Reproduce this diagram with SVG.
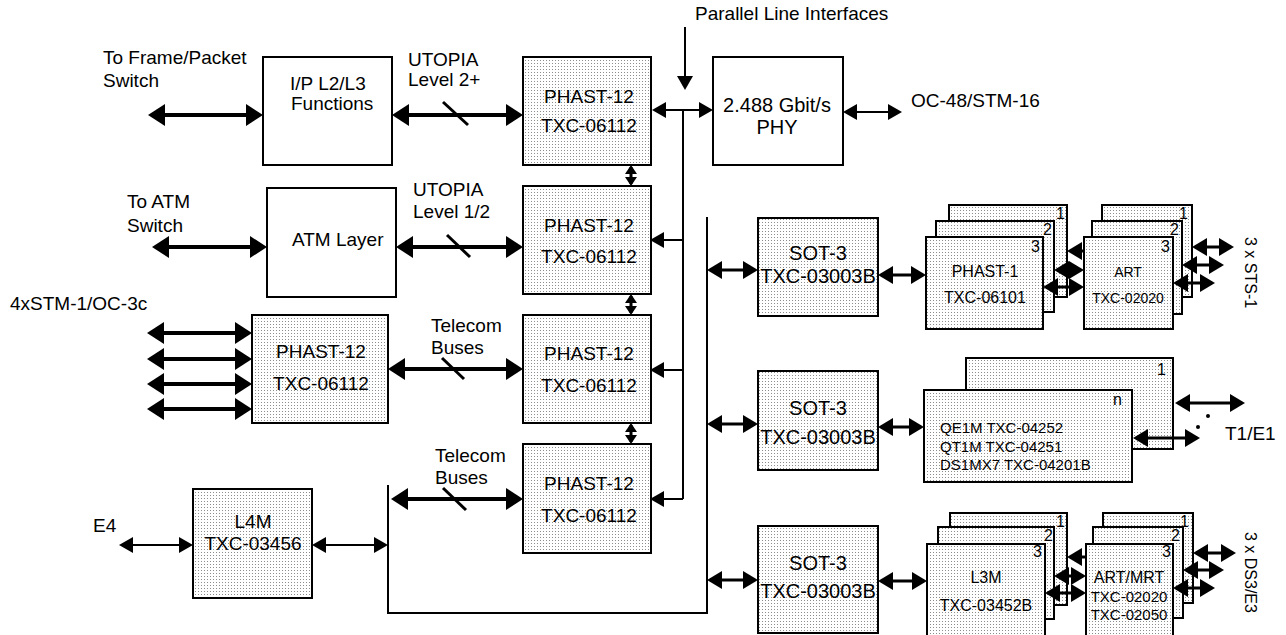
<svg xmlns="http://www.w3.org/2000/svg" width="1286" height="635" viewBox="0 0 1286 635">
<style>
.t{font-family:"Liberation Sans",Arial,sans-serif;font-size:19px;fill:#000}
.m{text-anchor:middle}
.e{text-anchor:end}
.s20{font-size:20px}
.s16{font-size:16px}
.s15{font-size:15px}
.s14{font-size:14px}
.box{fill:#fff;stroke:#000;stroke-width:2}
.chip{fill:url(#dots);stroke:#000;stroke-width:2}
.thick{stroke:#000;stroke-width:4;fill:none;marker-start:url(#hb);marker-end:url(#hb)}
.med{stroke:#000;stroke-width:3;fill:none;marker-start:url(#hm);marker-end:url(#hm)}
.medl{stroke:#000;stroke-width:3;fill:none;marker-start:url(#hm)}
.thin{stroke:#000;stroke-width:2;fill:none;marker-start:url(#hs);marker-end:url(#hs)}
.one{stroke:#000;stroke-width:2;fill:none;marker-end:url(#hs)}
.tiny{stroke:#000;stroke-width:3;fill:none;marker-start:url(#ht);marker-end:url(#ht)}
.bus{stroke:#000;stroke-width:2;fill:none}
.sl{stroke:#000;stroke-width:3}
</style>
<defs>
<pattern id="dots" width="3" height="3" patternUnits="userSpaceOnUse"><rect width="3" height="3" fill="#fff"/><rect width="1" height="1" fill="#8c8c8c"/></pattern>
<marker id="hb" markerUnits="userSpaceOnUse" viewBox="0 0 17 22" markerWidth="17" markerHeight="22" refX="13" refY="11" orient="auto-start-reverse"><path d="M0,0L17,11L0,22z"/></marker>
<marker id="hm" markerUnits="userSpaceOnUse" viewBox="0 0 15 18" markerWidth="15" markerHeight="18" refX="12" refY="9" orient="auto-start-reverse"><path d="M0,0L15,9L0,18z"/></marker>
<marker id="hs" markerUnits="userSpaceOnUse" viewBox="0 0 14 16" markerWidth="14" markerHeight="16" refX="11" refY="8" orient="auto-start-reverse"><path d="M0,0L14,8L0,16z"/></marker>
<marker id="ht" markerUnits="userSpaceOnUse" viewBox="0 0 9 12" markerWidth="9" markerHeight="12" refX="7" refY="6" orient="auto-start-reverse"><path d="M0,0L9,6L0,12z"/></marker>
</defs>
<rect width="1286" height="635" fill="#fff"/>

<g id="labels">
<text class="t" x="103" y="64">To Frame/Packet</text>
<text class="t" x="103" y="87">Switch</text>
<text class="t" x="408" y="66">UTOPIA</text>
<text class="t" x="408" y="86">Level 2+</text>
<text class="t" x="695" y="20">Parallel Line Interfaces</text>
<text class="t" x="911" y="107">OC-48/STM-16</text>
<text class="t" x="127" y="208">To ATM</text>
<text class="t" x="127" y="232">Switch</text>
<text class="t" x="413" y="196">UTOPIA</text>
<text class="t" x="413" y="218">Level 1/2</text>
<text class="t" x="10" y="310">4xSTM-1/OC-3c</text>
<text class="t" x="431" y="332">Telecom</text>
<text class="t" x="431" y="354">Buses</text>
<text class="t" x="435" y="462">Telecom</text>
<text class="t" x="435" y="484">Buses</text>
<text class="t" x="93" y="532">E4</text>
<text class="t" x="1225" y="440">T1/E1</text>
<text class="t s16" transform="translate(1245,237) rotate(90)">3 x STS-1</text>
<text class="t s16" transform="translate(1245,532) rotate(90)">3 x DS3/E3</text>
</g>

<g id="ipl2l3"><rect class="box" x="263" y="57" width="129" height="108"/><text class="t" x="290" y="90">I/P L2/L3</text><text class="t" x="291" y="110">Functions</text></g>
<g id="atm"><rect class="box" x="267" y="188" width="129" height="109"/><text class="t" x="292" y="246">ATM Layer</text></g>
<g id="phy"><rect class="box" x="713" y="57" width="130" height="108"/><text class="t m s20" x="777" y="112">2.488 Gbit/s</text><text class="t m s20" x="777" y="134">PHY</text></g>
<g id="phast1"><rect class="chip" x="523" y="57" width="128" height="108"/><text class="t m" x="589" y="103">PHAST-12</text><text class="t m" x="589" y="132">TXC-06112</text></g>
<g id="phast2"><rect class="chip" x="523" y="186" width="128" height="108"/><text class="t m" x="589" y="232">PHAST-12</text><text class="t m" x="589" y="263">TXC-06112</text></g>
<g id="phast3"><rect class="chip" x="523" y="315" width="128" height="108"/><text class="t m" x="589" y="360">PHAST-12</text><text class="t m" x="589" y="392">TXC-06112</text></g>
<g id="phast4"><rect class="chip" x="523" y="444" width="128" height="109"/><text class="t m" x="589" y="490">PHAST-12</text><text class="t m" x="589" y="522">TXC-06112</text></g>
<g id="phastL"><rect class="chip" x="252" y="315" width="136" height="108"/><text class="t m" x="321" y="358">PHAST-12</text><text class="t m" x="321" y="390">TXC-06112</text></g>
<g id="l4m"><rect class="chip" x="193" y="489" width="119" height="109"/><text class="t m" x="253" y="528">L4M</text><text class="t m" x="253" y="550">TXC-03456</text></g>
<g id="sot1"><rect class="chip" x="758" y="218" width="120" height="98"/><text class="t m s20" x="818" y="260">SOT-3</text><text class="t m s20" x="818" y="283">TXC-03003B</text></g>
<g id="sot2"><rect class="chip" x="758" y="371" width="120" height="99"/><text class="t m s20" x="818" y="415">SOT-3</text><text class="t m s20" x="818" y="444">TXC-03003B</text></g>
<g id="sot3"><rect class="chip" x="758" y="526" width="120" height="107"/><text class="t m s20" x="818" y="570">SOT-3</text><text class="t m s20" x="818" y="598">TXC-03003B</text></g>

<g id="phast1stack">
<rect class="chip" x="949" y="205" width="118" height="92"/><text class="t s16 e" x="1065" y="219">1</text>
<rect class="chip" x="936" y="221" width="118" height="91"/><text class="t s16 e" x="1052" y="235">2</text>
<rect class="chip" x="926" y="237" width="117" height="92"/><text class="t s16 e" x="1040" y="252">3</text>
<text class="t s16 m" x="985" y="277">PHAST-1</text><text class="t s16 m" x="985" y="303">TXC-06101</text>
</g>
<g id="artstack">
<rect class="chip" x="1102" y="205" width="90" height="92"/><text class="t s16 e" x="1188" y="219">1</text>
<rect class="chip" x="1092" y="221" width="90" height="93"/><text class="t s16 e" x="1179" y="235">2</text>
<rect class="chip" x="1084" y="237" width="89" height="92"/><text class="t s16 e" x="1170" y="252">3</text>
<text class="t s14 m" x="1128" y="277">ART</text><text class="t s14 m" x="1128" y="303">TXC-02020</text>
</g>
<g id="qe1mstack">
<rect class="chip" x="966" y="358" width="207" height="91"/><text class="t s16 e" x="1166" y="375">1</text>
<rect class="chip" x="924" y="390" width="208" height="92"/><text class="t s16 e" x="1122" y="405">n</text>
<text class="t s15" x="940" y="433">QE1M TXC-04252</text>
<text class="t s15" x="940" y="452">QT1M TXC-04251</text>
<text class="t s15" x="940" y="470">DS1MX7 TXC-04201B</text>
</g>
<g id="l3mstack">
<rect class="chip" x="950" y="513" width="117" height="92"/><text class="t s16 e" x="1065" y="527">1</text>
<rect class="chip" x="938" y="527" width="116" height="92"/><text class="t s16 e" x="1053" y="541">2</text>
<rect class="chip" x="927" y="544" width="118" height="93"/><text class="t s16 e" x="1042" y="557">3</text>
<text class="t s16 m" x="986" y="583">L3M</text><text class="t s16 m" x="986" y="611">TXC-03452B</text>
</g>
<g id="artmrtstack">
<rect class="chip" x="1103" y="513" width="90" height="90"/><text class="t s16 e" x="1189" y="527">1</text>
<rect class="chip" x="1093" y="527" width="90" height="91"/><text class="t s16 e" x="1180" y="541">2</text>
<rect class="chip" x="1086" y="544" width="87" height="93"/><text class="t s16 e" x="1171" y="557">3</text>
<text class="t s16 m" x="1129" y="583">ART/MRT</text><text class="t s15 m" x="1129" y="602">TXC-02020</text><text class="t s15 m" x="1129" y="620">TXC-02050</text>
</g>

<g id="connectors">
<line class="thick" x1="152" y1="115" x2="259" y2="115"/>
<line class="thick" x1="396" y1="115" x2="519" y2="115"/>
<line class="sl" x1="443" y1="102" x2="468" y2="125"/>
<line class="thick" x1="156" y1="247" x2="263" y2="247"/>
<line class="thick" x1="400" y1="247" x2="519" y2="247"/>
<line class="sl" x1="447" y1="235" x2="470" y2="257"/>
<line class="thick" x1="151" y1="333" x2="248" y2="333"/>
<line class="thick" x1="151" y1="359" x2="248" y2="359"/>
<line class="thick" x1="151" y1="384" x2="248" y2="384"/>
<line class="thick" x1="151" y1="409" x2="248" y2="409"/>
<line class="thick" x1="392" y1="369" x2="519" y2="369"/>
<line class="sl" x1="442" y1="358" x2="464" y2="379"/>
<line class="thick" x1="395" y1="499" x2="519" y2="499"/>
<line class="sl" x1="443" y1="488" x2="466" y2="510"/>
<line class="tiny" x1="631" y1="167" x2="631" y2="184"/>
<line class="tiny" x1="631" y1="296" x2="631" y2="313"/>
<line class="tiny" x1="631" y1="425" x2="631" y2="442"/>
<line class="thin" x1="655" y1="110" x2="710" y2="110"/>
<line class="thin" x1="846" y1="112" x2="899" y2="112"/>
<line class="one" x1="685" y1="27" x2="685" y2="87"/>
<line class="bus" x1="683" y1="110" x2="683" y2="499"/>
<line class="one" x1="683" y1="240" x2="653" y2="240"/>
<line class="one" x1="683" y1="370" x2="653" y2="370"/>
<line class="one" x1="683" y1="499" x2="653" y2="499"/>
<path class="bus" d="M388,485V613H707V217"/>
<line class="thin" x1="122" y1="545" x2="190" y2="545"/>
<line class="thin" x1="315" y1="545" x2="385" y2="545"/>
<line class="med" x1="710" y1="270" x2="755" y2="270"/>
<line class="med" x1="710" y1="424" x2="755" y2="424"/>
<line class="med" x1="710" y1="580" x2="755" y2="580"/>
<line class="med" x1="881" y1="275" x2="923" y2="275"/>
<line class="med" x1="881" y1="427" x2="921" y2="427"/>
<line class="med" x1="881" y1="581" x2="924" y2="581"/>
<line class="medl" x1="1070" y1="251" x2="1084" y2="251"/>
<line class="med" x1="1057" y1="270" x2="1081" y2="270"/>
<line class="med" x1="1046" y1="287" x2="1081" y2="287"/>
<line class="med" x1="1195" y1="247" x2="1231" y2="247"/>
<line class="med" x1="1185" y1="265" x2="1221" y2="265"/>
<line class="med" x1="1176" y1="283" x2="1212" y2="283"/>
<line class="medl" x1="1070" y1="557" x2="1086" y2="557"/>
<line class="med" x1="1057" y1="576" x2="1083" y2="576"/>
<line class="med" x1="1048" y1="593" x2="1083" y2="593"/>
<line class="med" x1="1196" y1="553" x2="1233" y2="553"/>
<line class="med" x1="1186" y1="570" x2="1221" y2="570"/>
<line class="med" x1="1176" y1="588" x2="1212" y2="588"/>
<line class="med" x1="1178" y1="403" x2="1242" y2="403"/>
<line class="med" x1="1136" y1="438" x2="1197" y2="438"/>
<circle cx="1208" cy="416" r="2"/>
<circle cx="1198" cy="427" r="2"/>
</g>
</svg>
